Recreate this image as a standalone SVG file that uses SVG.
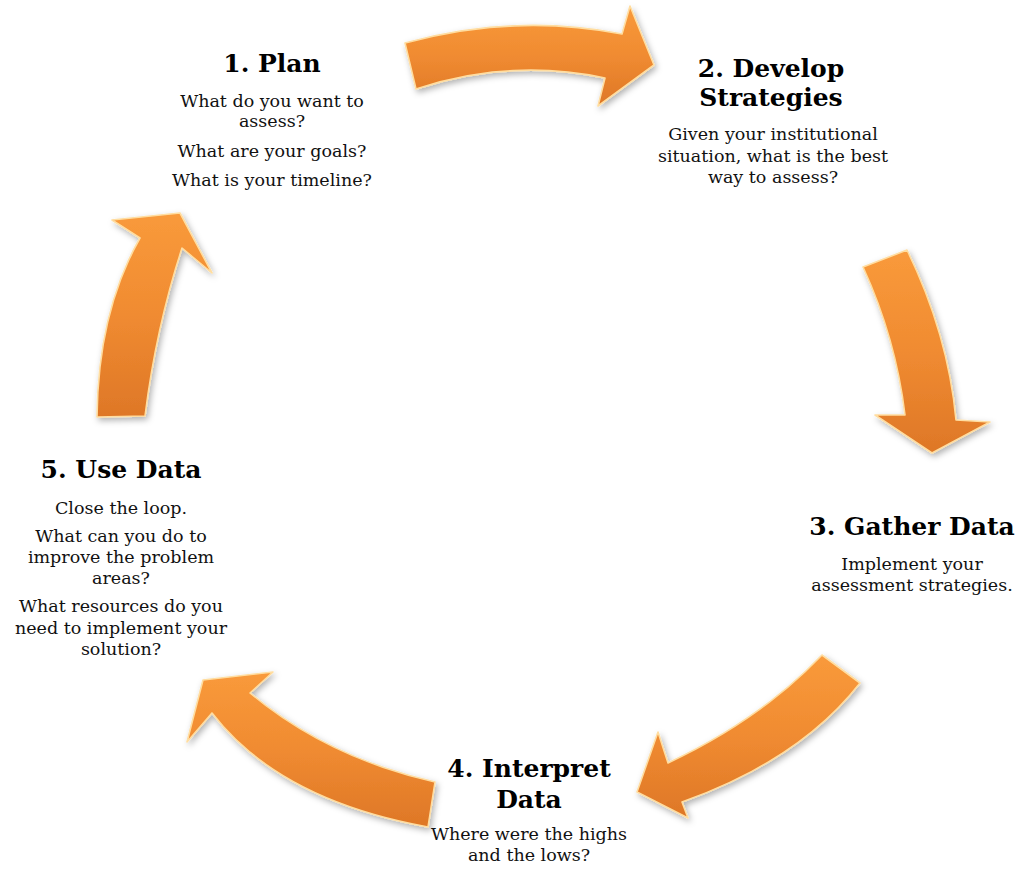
<svg xmlns="http://www.w3.org/2000/svg" width="1021" height="869" viewBox="0 0 1021 869">
<style>
.h{font-family:"DejaVu Serif","Liberation Serif",serif;font-weight:bold;font-size:25px;text-anchor:middle;fill:#000}
.b{font-family:"DejaVu Serif","Liberation Serif",serif;font-size:17.5px;text-anchor:middle;fill:#111}
.arrow{fill:url(#og);stroke:#FFDDA0;stroke-width:1.6;stroke-linejoin:round;filter:url(#sh)}
</style>
<defs>
<linearGradient id="og" x1="0" y1="0" x2="0" y2="1">
<stop offset="0" stop-color="#F99A3B"/>
<stop offset="0.5" stop-color="#F08B31"/>
<stop offset="1" stop-color="#DE7727"/>
</linearGradient>
<filter id="sh" x="-20%" y="-20%" width="140%" height="140%">
<feDropShadow dx="2" dy="3" stdDeviation="3" flood-color="#000" flood-opacity="0.3"/>
</filter>
</defs>
<rect width="1021" height="869" fill="#fff"/>
<g id="connectors">
<path id="a12" class="arrow" d="M405,43 Q515,13 622,34 L630,6 L654,65 L598,106 L605,78 Q510,58 416,89 Z"/>
<path id="a23" class="arrow" d="M863,267 L907,250 Q948,334 956,420 L990,422 L932,453 L875,415 L905,415 Q896,339 863,267 Z"/>
<path id="a34" class="arrow" d="M822,655 L860,683 Q800,760 682,802 L688,818 L637,792 L658,732 L668,763 Q760,720 822,655 Z"/>
<path id="a45" class="arrow" d="M435,782 L428,827 Q279,800 212,713 L187,742 L203,680 L273,672 L250,693 Q328,758 435,782 Z"/>
<path id="a51" class="arrow" d="M97,417 Q98,312 140,238 L112,220 L180,213 L212,273 L182,248 Q156,328 145,416 Z"/>
</g>
<g id="n1">
<text class="h" x="272" y="72">1. Plan</text>
<text class="b" x="272" y="107">What do you want to</text>
<text class="b" x="272" y="127">assess?</text>
<text class="b" x="272" y="157">What are your goals?</text>
<text class="b" x="272" y="186">What is your timeline?</text>
</g>
<g id="n2">
<text class="h" x="771" y="77">2. Develop</text>
<text class="h" x="771" y="106">Strategies</text>
<text class="b" x="773" y="140">Given your institutional</text>
<text class="b" x="773" y="162">situation, what is the best</text>
<text class="b" x="773" y="183">way to assess?</text>
</g>
<g id="n3">
<text class="h" x="912" y="535">3. Gather Data</text>
<text class="b" x="912" y="570">Implement your</text>
<text class="b" x="912" y="591">assessment strategies.</text>
</g>
<g id="n4">
<text class="h" x="529" y="777">4. Interpret</text>
<text class="h" x="529" y="808">Data</text>
<text class="b" x="529" y="840">Where were the highs</text>
<text class="b" x="529" y="861">and the lows?</text>
</g>
<g id="n5">
<text class="h" x="121" y="478">5. Use Data</text>
<text class="b" x="121" y="514">Close the loop.</text>
<text class="b" x="121" y="542">What can you do to</text>
<text class="b" x="121" y="563">improve the problem</text>
<text class="b" x="121" y="584">areas?</text>
<text class="b" x="121" y="612">What resources do you</text>
<text class="b" x="121" y="634">need to implement your</text>
<text class="b" x="121" y="655">solution?</text>
</g>
</svg>
